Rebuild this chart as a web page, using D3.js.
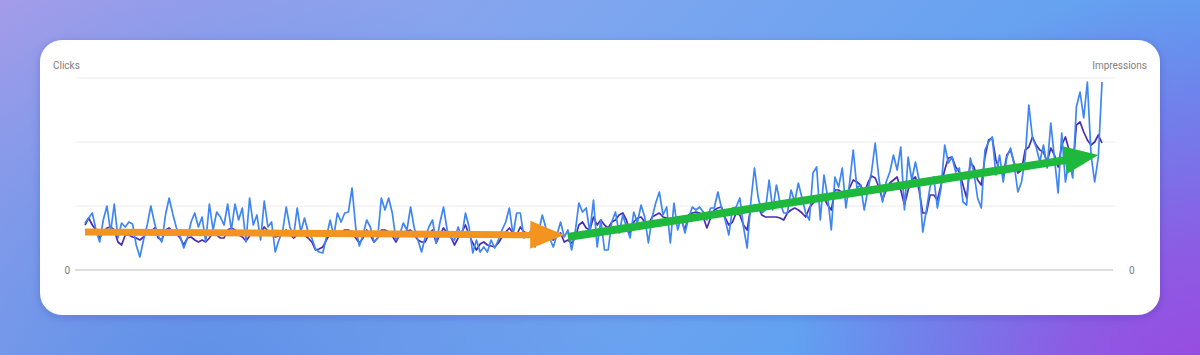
<!DOCTYPE html>
<html>
<head>
<meta charset="utf-8">
<script src="https://cdn.jsdelivr.net/npm/d3@7"></script>
<style>
  html, body { margin: 0; padding: 0; overflow: hidden; }
  svg { display: block; }
</style>
</head>
<body>
<div id="chart"></div>
<script>
// Daily series (same unit on both sides, three gridlines)
const clicks = [
  47,52,57,40,28,50,64,38,66,32,47,43,48,46,25,13,30,45,64,47,34,28,55,72,56,42,34,22,32,48,57,43,
  53,28,66,40,58,53,45,66,40,66,50,62,28,72,45,55,30,69,43,48,18,30,38,63,43,33,62,38,52,38,32,21,18,17,33,
  50,34,57,48,57,58,82,42,24,35,50,43,28,32,72,60,72,57,30,35,47,40,63,42,30,18,33,43,50,27,47,63,40,32,
  30,43,33,57,43,17,30,18,23,18,30,22,30,40,48,62,35,57,57,32,34,40,23,38,55,42,32,23,35,48,33,40,20,38,
  67,58,62,38,70,23,50,20,20,48,58,37,55,43,32,58,47,65,53,27,52,67,78,55,63,27,67,40,53,37,52,63,60,63,58,
  50,62,62,78,62,50,35,62,63,72,43,22,68,102,73,57,60,90,60,85,67,57,57,80,68,87,72,57,50,97,103,50,95,73,40,93,
  83,102,62,87,120,82,85,60,80,98,127,92,68,88,98,115,100,123,60,113,90,108,90,38,60,83,93,62,82,125,107,113,98,
  102,68,65,112,97,72,62,120,128,133,95,115,88,113,122,105,78,88,112,165,132,123,108,125,102,147,112,77,137,88,110,92,163,178,152,188,115,88,113,188
];

const impressions = [
  45,52,45,40,32,38,42,43,40,28,25,35,35,33,32,30,33,37,38,42,32,30,40,42,38,36,32,25,32,33,30,28,
  30,28,32,38,35,32,32,40,42,40,35,33,29,34,38,36,37,43,39,37,33,34,37,40,36,32,35,38,35,32,28,20,21,23,30,
  37,34,35,38,40,40,38,32,27,32,40,35,28,32,40,40,38,34,28,35,38,39,40,35,30,28,28,36,40,27,35,42,37,33,
  25,32,38,45,35,27,20,26,28,25,24,23,27,33,38,42,37,35,43,38,37,34,30,32,38,35,33,30,35,37,28,30,27,32,
  45,48,42,40,53,45,50,45,42,48,50,55,57,50,37,48,52,53,48,45,53,55,57,53,52,48,50,53,50,40,55,57,58,57,53,
  42,52,60,62,63,52,45,48,57,55,45,40,63,65,63,55,53,53,53,53,52,50,57,60,62,60,57,53,62,67,70,70,72,65,60,80,
  80,77,73,82,90,88,85,77,87,94,92,83,70,80,87,90,93,80,65,80,90,93,80,57,57,75,75,70,85,100,112,113,103,
  98,85,72,108,103,90,85,113,130,132,110,100,95,115,120,107,97,100,120,123,133,125,120,118,108,122,115,103,125,133,120,100,145,148,138,130,125,128,135,127
];

const gridTicks = [64, 128, 192];
const axisTitles = ['Clicks', 'Impressions'];

// trend annotations, in data terms: [day index, value]
const trendArrows = [
  { from: [0, 38], to: [131, 35], color: '#f39420', width: 7 },
  { from: [132, 33], to: [277, 115], color: '#1db83c', width: 8 },
];

const W = 1200, H = 355;
const card = { x: 40, y: 40, w: 1120, h: 275, r: 22 };
const plot = { left: 85, right: 1102, top: 78, bottom: 270 };

const svg = d3.select('#chart').append('svg').attr('width', W).attr('height', H);
const defs = svg.append('defs');

const bgLin = defs.append('linearGradient').attr('id', 'bgLin')
  .attr('x1', 0).attr('y1', 0).attr('x2', 1).attr('y2', 0.3);
bgLin.append('stop').attr('offset', 0).attr('stop-color', '#a59ce9');
bgLin.append('stop').attr('offset', 0.45).attr('stop-color', '#7fa6ef');
bgLin.append('stop').attr('offset', 1).attr('stop-color', '#58a0f1');

const bgRad = defs.append('radialGradient').attr('id', 'bgRad')
  .attr('gradientUnits', 'userSpaceOnUse').attr('cx', 1210).attr('cy', 400).attr('r', 420);
bgRad.append('stop').attr('offset', 0).attr('stop-color', '#9c46e0').attr('stop-opacity', 1);
bgRad.append('stop').attr('offset', 0.35).attr('stop-color', '#9a4ae0').attr('stop-opacity', 0.8);
bgRad.append('stop').attr('offset', 1).attr('stop-color', '#9a4ae0').attr('stop-opacity', 0);

const bgRad2 = defs.append('radialGradient').attr('id', 'bgRad2')
  .attr('gradientUnits', 'userSpaceOnUse').attr('cx', 200).attr('cy', 400).attr('r', 450);
bgRad2.append('stop').attr('offset', 0).attr('stop-color', '#5a8de6').attr('stop-opacity', 0.9);
bgRad2.append('stop').attr('offset', 1).attr('stop-color', '#5a8de6').attr('stop-opacity', 0);

const shadow = defs.append('filter').attr('id', 'shadow')
  .attr('x', '-5%').attr('y', '-10%').attr('width', '110%').attr('height', '130%');
shadow.append('feDropShadow').attr('dx', 0).attr('dy', 2).attr('stdDeviation', 4)
  .attr('flood-color', '#2a2a80').attr('flood-opacity', 0.2);

svg.append('rect').attr('width', W).attr('height', H).attr('fill', 'url(#bgLin)');
svg.append('rect').attr('width', W).attr('height', H).attr('fill', 'url(#bgRad2)');
svg.append('rect').attr('width', W).attr('height', H).attr('fill', 'url(#bgRad)');

svg.append('rect')
  .attr('x', card.x).attr('y', card.y).attr('width', card.w).attr('height', card.h)
  .attr('rx', card.r).attr('fill', '#fff').attr('filter', 'url(#shadow)');

const x = d3.scaleLinear().domain([0, clicks.length - 1]).range([plot.left, plot.right]);
const yClicks = d3.scaleLinear().domain([0, 192]).range([plot.bottom, plot.top]);
const yImpr = d3.scaleLinear().domain([0, 192]).range([plot.bottom, plot.top]);

// gridlines
svg.append('g')
  .selectAll('line')
  .data(gridTicks)
  .join('line')
  .attr('x1', 75).attr('x2', 1115)
  .attr('y1', (d) => yClicks(d)).attr('y2', (d) => yClicks(d))
  .attr('stroke', '#ececec').attr('stroke-width', 1);

svg.append('line')
  .attr('x1', 75).attr('x2', 1113)
  .attr('y1', yClicks(0)).attr('y2', yClicks(0))
  .attr('stroke', '#bdbdbd').attr('stroke-width', 1);

const textStyle = (sel) => sel.style('font-family', 'Roboto, sans-serif').style('font-size', '10px').attr('fill', '#808080');

svg.append('text').attr('x', 53).attr('y', 69).text(axisTitles[0]).call(textStyle);
svg.append('text').attr('x', 1147).attr('y', 69).attr('text-anchor', 'end').text(axisTitles[1]).call(textStyle);
svg.append('text').attr('x', 70).attr('y', yClicks(0) + 4).attr('text-anchor', 'end').text('0').call(textStyle);
svg.append('text').attr('x', 1129).attr('y', yImpr(0) + 4).text('0').call(textStyle);

const imprLine = d3.line().x((d, i) => x(i)).y((d) => yImpr(d));
const clickLine = d3.line().x((d, i) => x(i)).y((d) => yClicks(d));

svg.append('path').datum(impressions)
  .attr('fill', 'none').attr('stroke', '#4a2cb2').attr('stroke-width', 1.7)
  .attr('stroke-linejoin', 'round').attr('d', imprLine);

svg.append('path').datum(clicks)
  .attr('fill', 'none').attr('stroke', '#3f86f2').attr('stroke-width', 1.7)
  .attr('stroke-linejoin', 'round').attr('d', clickLine);

// arrows
trendArrows.forEach((a) => {
  const x0 = x(a.from[0]), y0 = yClicks(a.from[1]);
  const x1 = x(a.to[0]), y1 = yClicks(a.to[1]);
  const len = Math.hypot(x1 - x0, y1 - y0);
  const ux = (x1 - x0) / len, uy = (y1 - y0) / len;
  const headLen = 34, headHalf = 14;
  const bx = x1 - ux * headLen, by = y1 - uy * headLen;
  svg.append('line')
    .attr('x1', x0).attr('y1', y0).attr('x2', bx + ux * 2).attr('y2', by + uy * 2)
    .attr('stroke', a.color).attr('stroke-width', a.width);
  svg.append('polygon')
    .attr('points', [
      [x1, y1],
      [bx - uy * headHalf, by + ux * headHalf],
      [bx + uy * headHalf, by - ux * headHalf],
    ].map((p) => p.join(',')).join(' '))
    .attr('fill', a.color);
});
</script>
</body>
</html>
